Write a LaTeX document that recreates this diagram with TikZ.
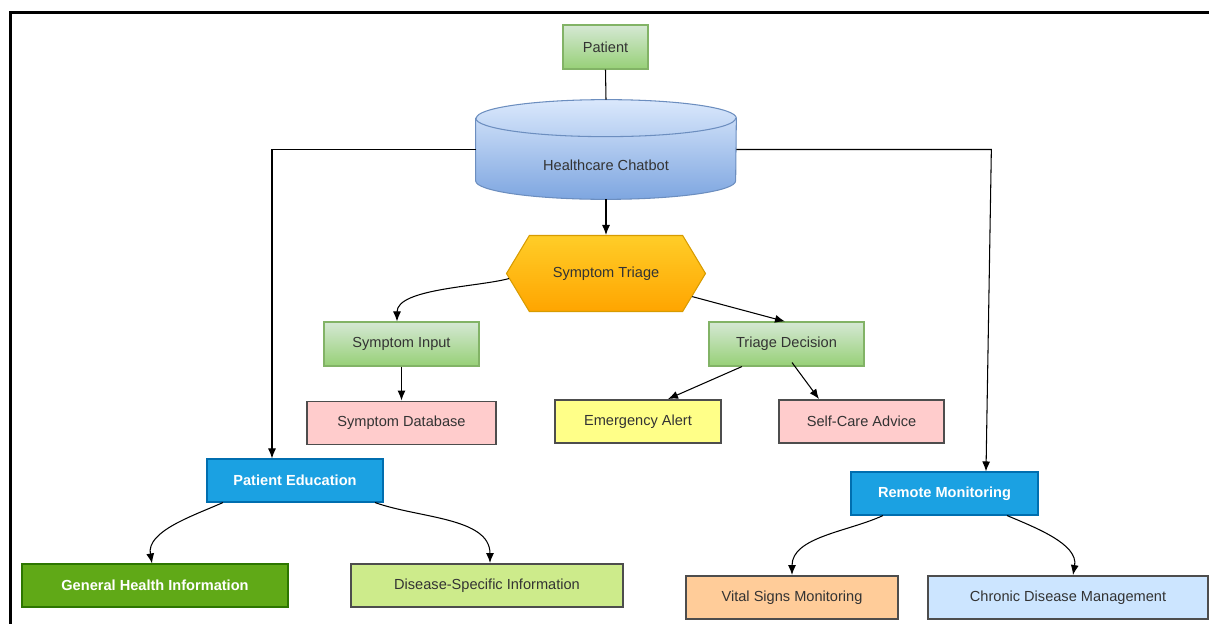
\documentclass[tikz,border=0pt]{standalone}
\usepackage{fontspec}
\setmainfont{Liberation Sans}
\usetikzlibrary{shapes.symbols, positioning, arrows.meta, calc}

\definecolor{txtgray}{HTML}{333333}
\definecolor{greenTop}{HTML}{D5E8D4}
\definecolor{greenBot}{HTML}{97D077}
\definecolor{greenLine}{HTML}{82B366}
\definecolor{cylTop}{HTML}{DAE8FC}
\definecolor{cylBot}{HTML}{7EA6E0}
\definecolor{cylLine}{HTML}{6C8EBF}
\definecolor{hexTop}{HTML}{FFCD28}
\definecolor{hexBot}{HTML}{FFA500}
\definecolor{hexLine}{HTML}{D79B00}
\definecolor{boxLine}{HTML}{4D4D4D}
\definecolor{blueFill}{HTML}{1BA1E2}
\definecolor{blueLine}{HTML}{006EAF}
\definecolor{leafFill}{HTML}{60A917}
\definecolor{leafLine}{HTML}{2D7600}
\definecolor{alertFill}{HTML}{FFFF88}

\begin{document}
\begin{tikzpicture}[
  every node/.style={font=\fontsize{8.3}{10}\selectfont, text=txtgray},
  >=Latex,
  soft/.style    ={draw=greenLine, semithick, top color=greenTop,
                   bottom color=greenBot, minimum height=0.88cm, align=center},
  outbox/.style  ={draw=boxLine, line width=1.1pt, minimum height=0.86cm,
                   align=center},
  topic/.style   ={draw=blueLine, semithick, fill=blueFill, text=white,
                   minimum height=0.86cm,
                   font=\fontsize{8.3}{10}\selectfont\bfseries},
  hexa/.style    ={signal, signal to=west and east, signal pointer angle=118,
                   draw=hexLine, semithick, top color=hexTop, bottom color=hexBot,
                   minimum width=3.98cm, minimum height=1.52cm},
  arr/.style     ={-{Latex[length=2mm, width=1.6mm]}, semithick},
  plain/.style   ={semithick},
]
\useasboundingbox (0,0) rectangle (24.18,-12.48);

%% ---- y layout (all in cm) ----
%%  -0.94  Patient
%%  -2.99  Healthcare Chatbot (cylinder)
%%  -5.47  Symptom Triage
%%  -6.88  Symptom Input / Triage Decision
%%  -8.43  Database / Alert / Advice
%%  -9.61  Patient Education,  -9.87 Remote Monitoring
%% -11.71  leaves (education), -11.95 leaves (monitoring)

%% frame
\draw[line width=1.6pt] (0.21,-12.48) -- (0.21,-0.25) -- (24.18,-0.25);

%% ---- Patient ----
\node[soft, minimum width=1.70cm] (patient) at (12.11,-0.94) {Patient};

%% ---- Chatbot (cylinder) ----
\node[minimum width=5.2cm, minimum height=1.98cm, inner sep=0pt] (bot) at (12.12,-2.99) {};
\path[draw=cylLine, semithick, top color=cylTop, bottom color=cylBot]
  ([yshift=-0.37cm]bot.north west) -- ([yshift=0.37cm]bot.south west)
  arc[start angle=180, end angle=360, x radius=2.6cm, y radius=0.37cm]
  -- ([yshift=-0.37cm]bot.north east)
  arc[start angle=0, end angle=180, x radius=2.6cm, y radius=0.37cm] -- cycle;
\draw[cylLine, semithick] ([yshift=-0.37cm]bot.north west)
  arc[start angle=180, end angle=360, x radius=2.6cm, y radius=0.37cm];
\node (botlbl) at ([yshift=-0.31cm]bot.center) {Healthcare Chatbot};
\draw[plain] (patient.south) -- (bot.north);

%% ---- Symptom triage ----
\node[hexa] (triage) at (12.12,-5.47) {Symptom Triage};
\draw[arr] (bot.south) -- (triage.north);

\node[soft, minimum width=3.10cm] (input)    at ( 8.03,-6.88) {Symptom Input};
\node[soft, minimum width=3.10cm] (decision) at (15.73,-6.88) {Triage Decision};
\draw[arr] (triage.183) to[out=195, in=90, looseness=0.7] ([xshift=-0.09cm]input.north);
\draw[arr] (triage.345) -- ([xshift=-0.03cm]decision.north);

\node[outbox, fill=red!20, minimum width=3.78cm, below=0.68cm of input] (symdb) {Symptom Database};
\node[outbox, fill=alertFill, minimum width=3.32cm] (alert) at (12.76,-8.43) {Emergency Alert};
\node[outbox, fill=red!20, minimum width=3.30cm] (advice) at (17.23,-8.43) {Self-Care Advice};
\draw[arr] (input) -- (symdb);
\draw[arr] ([xshift=-0.89cm]decision.south) -- ([xshift=0.60cm]alert.north);
\draw[arr] ([xshift=0.11cm,yshift=0.08cm]decision.south) -- ([xshift=-0.85cm]advice.north);

%% ---- Patient education ----
\node[topic, minimum width=3.52cm] (edu) at (5.90,-9.61) {Patient Education};
\draw[arr] (bot.west) -| ([xshift=-0.46cm]edu.north);

\node[draw=leafLine, semithick, fill=leafFill, text=white, minimum height=0.86cm,
      minimum width=5.32cm, font=\fontsize{8.3}{10}\selectfont\bfseries]
  (general) at (3.10,-11.71) {General Health Information};
\node[outbox, fill={rgb,255:red,205;green,235;blue,139}, minimum width=5.44cm]
  (specific) at (9.74,-11.71) {Disease-Specific Information};
\draw[arr] ([xshift=-1.44cm]edu.south) to[out=204, in=100, looseness=0.9] ([xshift=-0.06cm]general.north);
\draw[arr] ([xshift=1.60cm]edu.south) to[out=-20, in=90, looseness=0.9] ([xshift=0.06cm]specific.north);

%% ---- Remote monitoring ----
\node[topic, minimum width=3.74cm] (remote) at (18.89,-9.87) {Remote Monitoring};
\coordinate (rbend) at ([xshift=5.10cm]bot.east);
\draw[arr] (bot.east) -- (rbend) -- ([xshift=0.83cm]remote.north);

\node[outbox, fill={rgb,255:red,255;green,204;blue,153}, minimum width=4.24cm]
  (vital) at (15.84,-11.95) {Vital Signs Monitoring};
\node[outbox, fill={rgb,255:red,204;green,229;blue,255}, minimum width=5.60cm]
  (chronic) at (21.36,-11.95) {Chronic Disease Management};
\draw[arr] ([xshift=-1.23cm]remote.south) to[out=205, in=90, looseness=0.9] (vital.north);
\draw[arr] ([xshift=1.25cm]remote.south) to[out=-23, in=80, looseness=0.9] ([xshift=0.10cm]chronic.north);

\end{tikzpicture}
\end{document}
